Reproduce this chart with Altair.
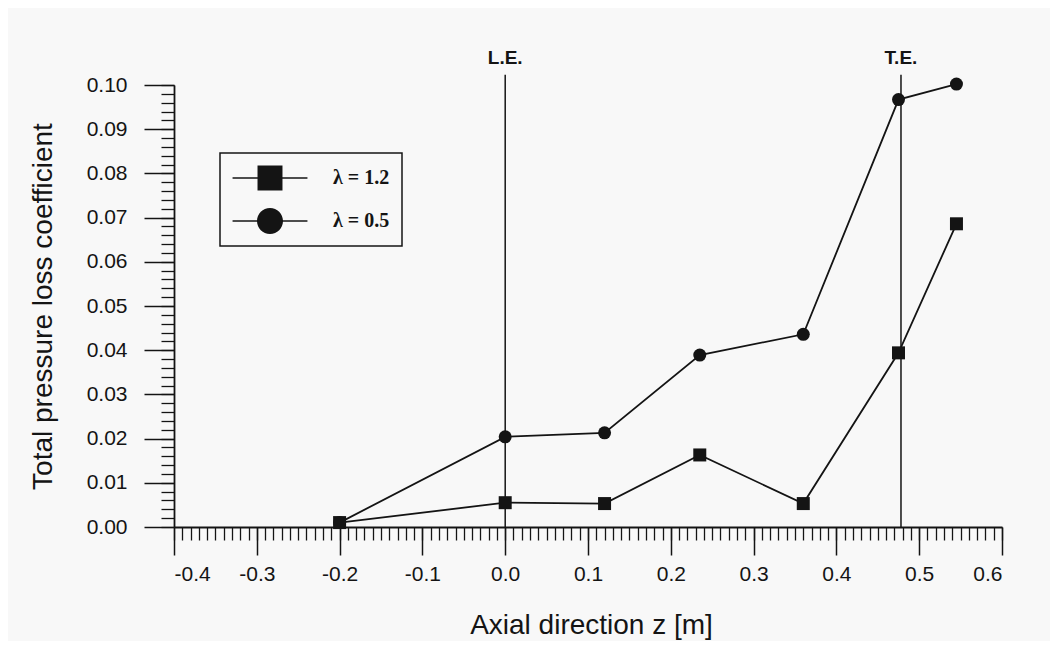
import altair as alt
import pandas as pd

# ---- data ----
z = [-0.2, 0.0, 0.12, 0.235, 0.36, 0.475, 0.545]
loss_12 = [0.001, 0.0055, 0.0053, 0.0163, 0.0053, 0.0394, 0.0686]
loss_05 = [0.001, 0.0204, 0.0213, 0.0389, 0.0436, 0.0967, 0.1002]
series = ["λ = 1.2", "λ = 0.5"]

marker_pos = [0.0, 0.478]
marker_lab = ["L.E.", "T.E."]
marker_top = [0.1023, 0.1023]

x_major = [-0.4, -0.3, -0.2, -0.1, 0.0, 0.1, 0.2, 0.3, 0.4, 0.5, 0.6]
y_major = [0.0, 0.01, 0.02, 0.03, 0.04, 0.05, 0.06, 0.07, 0.08, 0.09, 0.10]
x_minor = [round(-0.4 + i * 0.01, 3) for i in range(101)]
y_minor = [round(i * 0.002, 4) for i in range(51)]

df = pd.DataFrame({
    "z": z + z,
    "loss": loss_12 + loss_05,
    "series": [series[0]] * len(z) + [series[1]] * len(z),
})
mk = pd.DataFrame({"pos": marker_pos, "lab": marker_lab, "top": marker_top,
                   "bottom": [0.0, 0.0]})

INK = "#141414"
FONT = "Liberation Sans"

xs = alt.Scale(domain=[-0.4, 0.6], nice=False, zero=False)
ys = alt.Scale(domain=[0.0, 0.10], nice=False, zero=False)

x_axis = alt.Axis(
    orient="bottom", values=x_major,
    labelExpr="(datum.value < -0.0001 ? '-' : '') + format(abs(datum.value), '.1f')",
    tickSize=28, tickWidth=1.5, tickColor=INK, domainColor=INK, domainWidth=1.8,
    labelFontSize=21, labelPadding=8, labelColor=INK, labelFont=FONT,
    grid=False, title="Axial direction z [m]", titleFontSize=28,
    titleFontWeight="normal", titleFont=FONT, titleColor=INK,
    titleX=417, titleY=98, titleBaseline="middle", titleAlign="center",
)
y_axis = alt.Axis(
    orient="left", values=y_major, format=".2f",
    tickSize=30, tickWidth=1.5, tickColor=INK, domainColor=INK, domainWidth=1.8,
    labelFontSize=21, labelPadding=17, labelColor=INK, labelFont=FONT,
    grid=False, title="Total pressure loss coefficient", titleFontSize=28,
    titleFontWeight="normal", titleFont=FONT, titleColor=INK,
    titleX=-131, titleY=221, titleAngle=270, titleBaseline="middle", titleAlign="center",
)
x_minor_axis = alt.Axis(orient="bottom", values=x_minor, tickSize=13, tickWidth=1.3,
                        tickColor=INK, labels=False, domain=False, grid=False, title=None)
y_minor_axis = alt.Axis(orient="left", values=y_minor, tickSize=13, tickWidth=1.3,
                        tickColor=INK, labels=False, domain=False, grid=False, title=None)

minor = alt.Chart(df).mark_point(opacity=0).encode(
    x=alt.X("z:Q", scale=xs, axis=x_minor_axis),
    y=alt.Y("loss:Q", scale=ys, axis=y_minor_axis),
)

lines = alt.Chart(df).mark_line(color=INK, strokeWidth=1.8).encode(
    x=alt.X("z:Q", scale=xs, axis=x_axis),
    y=alt.Y("loss:Q", scale=ys, axis=y_axis),
    detail="series:N",
)

rules = alt.Chart(mk).mark_rule(color=INK, strokeWidth=1.5).encode(
    x=alt.X("pos:Q", scale=xs, axis=None),
    y=alt.Y("bottom:Q", scale=ys, axis=None),
    y2="top:Q",
)
labels = alt.Chart(mk).mark_text(baseline="alphabetic", dy=-11, fontSize=19,
                                 fontWeight="bold", color=INK, font=FONT).encode(
    x=alt.X("pos:Q", scale=xs, axis=None),
    y=alt.Y("top:Q", scale=ys, axis=None),
    text="lab:N",
)

squares = alt.Chart(df).transform_filter(alt.datum.series == series[0]).mark_point(
    shape="square", filled=True, size=169, color=INK, opacity=1).encode(
    x=alt.X("z:Q", scale=xs, axis=None),
    y=alt.Y("loss:Q", scale=ys, axis=None),
)
circles = alt.Chart(df).transform_filter(alt.datum.series == series[1]).mark_point(
    shape="circle", filled=True, size=169, color=INK, opacity=1).encode(
    x=alt.X("z:Q", scale=xs, axis=None),
    y=alt.Y("loss:Q", scale=ys, axis=None),
)

# legend glyphs: marker with a short line through it (filled shapes only)
sq_path = ("M-2.88,-0.06L-0.96,-0.06L-0.96,0.06L-2.88,0.06Z"
           "M0.96,-0.06L2.88,-0.06L2.88,0.06L0.96,0.06Z"
           "M-0.96,-0.96L0.96,-0.96L0.96,0.96L-0.96,0.96Z")
ci_path = ("M-2.88,-0.06L-0.98,-0.06L-0.98,0.06L-2.88,0.06Z"
           "M0.98,-0.06L2.88,-0.06L2.88,0.06L0.98,0.06Z"
           "M-1,0A1,1,0,1,1,1,0A1,1,0,1,1,-1,0Z")

legend_layer = alt.Chart(df).transform_filter("false").mark_point(
    filled=True, color=INK, size=676, opacity=1).encode(
    x=alt.X("z:Q", scale=xs, axis=None),
    y=alt.Y("loss:Q", scale=ys, axis=None),
    shape=alt.Shape("series:N", scale=alt.Scale(domain=series, range=[sq_path, ci_path]),
                    legend=alt.Legend(
                        title=None, orient="none", legendX=46, legendY=68,
                        padding=12, strokeColor=INK,
                        symbolSize=676, symbolFillColor=INK,
                        symbolStrokeWidth=0, symbolOpacity=1, symbolOffset=25,
                        labelFont="Liberation Serif", labelFontWeight="bold",
                        labelFontSize=20, labelColor=INK, labelOffset=50,
                        rowPadding=17,
                    )),
)

chart = alt.layer(minor, lines, rules, labels, squares, circles, legend_layer).resolve_axis(
    x="independent", y="independent"
).properties(
    width=828, height=442,
    autosize=alt.AutoSizeParams(type="none"),
    padding={"left": 166, "top": 77, "right": 48, "bottom": 114},
    background="#f8f8f8",
).configure_view(stroke=None).configure_legend(strokeWidth=1.5)

chart.save("out.html", embed_options={"renderer": "svg", "actions": False})
